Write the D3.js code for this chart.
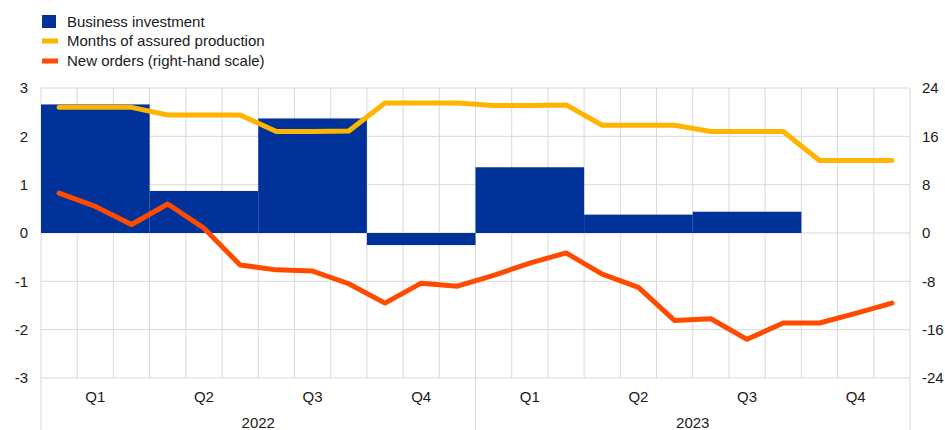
<!DOCTYPE html>
<html>
<head>
<meta charset="utf-8">
<script src="https://cdn.jsdelivr.net/npm/d3@7"></script>
<style>
  html, body { margin: 0; padding: 0; background: #fff; }
  svg { display: block; }
  text { font-family: "Liberation Sans", Arial, sans-serif; fill: #1a1a1a; }
</style>
</head>
<body>
<svg id="chart" width="945" height="430"></svg>
<script>
// ---- data ----
const months = ["2022-01","2022-02","2022-03","2022-04","2022-05","2022-06","2022-07","2022-08","2022-09","2022-10","2022-11","2022-12",
                "2023-01","2023-02","2023-03","2023-04","2023-05","2023-06","2023-07","2023-08","2023-09","2023-10","2023-11","2023-12"];
const quarterLabels = ["Q1","Q2","Q3","Q4","Q1","Q2","Q3","Q4"];
const yearLabels = ["2022","2023"];
const businessInvestment = [2.66, 0.87, 2.37, -0.25, 1.36, 0.38, 0.44, null];
const assuredProduction = [2.60, 2.60, 2.60, 2.44, 2.44, 2.44, 2.10, 2.10, 2.11, 2.69, 2.69, 2.69,
                           2.64, 2.64, 2.65, 2.23, 2.23, 2.23, 2.10, 2.10, 2.10, 1.50, 1.50, 1.50];
const newOrders = [6.6, 4.4, 1.4, 4.8, 0.8, -5.3, -6.1, -6.3, -8.4, -11.6, -8.3, -8.8,
                   -7.0, -5.0, -3.3, -6.8, -9.0, -14.5, -14.2, -17.6, -14.9, -14.9, -13.3, -11.6];
const leftTicks = [-3, -2, -1, 0, 1, 2, 3];
const rightTicks = [-24, -16, -8, 0, 8, 16, 24];
const legendItems = ["Business investment", "Months of assured production", "New orders (right-hand scale)"];

// ---- layout ----
const svg = d3.select("#chart");
const pLeft = 41, pRight = 910, pTop = 88, pBottom = 378;
const colBlue = "#003299", colYellow = "#ffb400", colOrange = "#ff4b00", colGrid = "#d9d9d9";
const fs = 15;

const x = d3.scaleBand().domain(months).range([pLeft, pRight]).paddingInner(0).paddingOuter(0);
const xq = d3.scaleBand().domain(d3.range(8)).range([pLeft, pRight]);
const xy = d3.scaleBand().domain(yearLabels).range([pLeft, pRight]);
const yL = d3.scaleLinear().domain([-3, 3]).range([pBottom, pTop]);
const yR = d3.scaleLinear().domain([-24, 24]).range([pBottom, pTop]);

// gridlines
const grid = svg.append("g");
grid.selectAll("line.h").data(leftTicks).join("line")
  .attr("x1", pLeft).attr("x2", pRight)
  .attr("y1", d => yL(d)).attr("y2", d => yL(d))
  .attr("stroke", colGrid).attr("stroke-width", 1);
grid.selectAll("line.v").data(d3.range(months.length + 1)).join("line")
  .attr("x1", i => pLeft + i * x.bandwidth()).attr("x2", i => pLeft + i * x.bandwidth())
  .attr("y1", pTop).attr("y2", pBottom)
  .attr("stroke", colGrid).attr("stroke-width", 1);
// year separators extending below axis
grid.selectAll("line.y").data([0, 1, 2]).join("line")
  .attr("x1", d => pLeft + d * xy.bandwidth()).attr("x2", d => pLeft + d * xy.bandwidth())
  .attr("y1", pBottom).attr("y2", 430)
  .attr("stroke", colGrid).attr("stroke-width", 1);

// bars
svg.append("g").selectAll("rect").data(businessInvestment.map((v, i) => ({v, i})).filter(d => d.v !== null)).join("rect")
  .attr("x", d => xq(d.i)).attr("width", xq.bandwidth())
  .attr("y", d => yL(Math.max(0, d.v))).attr("height", d => Math.abs(yL(d.v) - yL(0)))
  .attr("fill", colBlue);

// lines
const cx = m => x(m) + x.bandwidth() / 2;
svg.append("path").datum(assuredProduction)
  .attr("d", d3.line().x((d, i) => cx(months[i])).y(d => yL(d)))
  .attr("fill", "none").attr("stroke", colYellow).attr("stroke-width", 5)
  .attr("stroke-linejoin", "round").attr("stroke-linecap", "round");
svg.append("path").datum(newOrders)
  .attr("d", d3.line().x((d, i) => cx(months[i])).y(d => yR(d)))
  .attr("fill", "none").attr("stroke", colOrange).attr("stroke-width", 5)
  .attr("stroke-linejoin", "round").attr("stroke-linecap", "round");

// axes labels
svg.append("g").selectAll("text").data(leftTicks).join("text")
  .attr("x", 28).attr("y", d => yL(d)).attr("dy", "0.35em")
  .attr("text-anchor", "end").attr("font-size", fs).text(d => d);
svg.append("g").selectAll("text").data(rightTicks).join("text")
  .attr("x", 922).attr("y", d => yR(d)).attr("dy", "0.35em")
  .attr("text-anchor", "start").attr("font-size", fs).text(d => d);
svg.append("g").selectAll("text").data(quarterLabels).join("text")
  .attr("x", (d, i) => xq(i) + xq.bandwidth() / 2).attr("y", 397).attr("dy", "0.35em")
  .attr("text-anchor", "middle").attr("font-size", fs).text(d => d);
svg.append("g").selectAll("text").data(yearLabels).join("text")
  .attr("x", d => xy(d) + xy.bandwidth() / 2).attr("y", 422.5).attr("dy", "0.35em")
  .attr("text-anchor", "middle").attr("font-size", fs).text(d => d);

// legend
const lg = svg.append("g");
lg.append("rect").attr("x", 42).attr("y", 15).attr("width", 14).attr("height", 13).attr("fill", colBlue);
lg.append("rect").attr("x", 42).attr("y", 38.5).attr("width", 16).attr("height", 5).attr("fill", colYellow);
lg.append("rect").attr("x", 42).attr("y", 58.5).attr("width", 16).attr("height", 5).attr("fill", colOrange);
lg.selectAll("text").data(legendItems).join("text")
  .attr("x", 67).attr("y", (d, i) => 21.5 + i * 19.7).attr("dy", "0.35em")
  .attr("font-size", fs).text(d => d);
</script>
</body>
</html>
